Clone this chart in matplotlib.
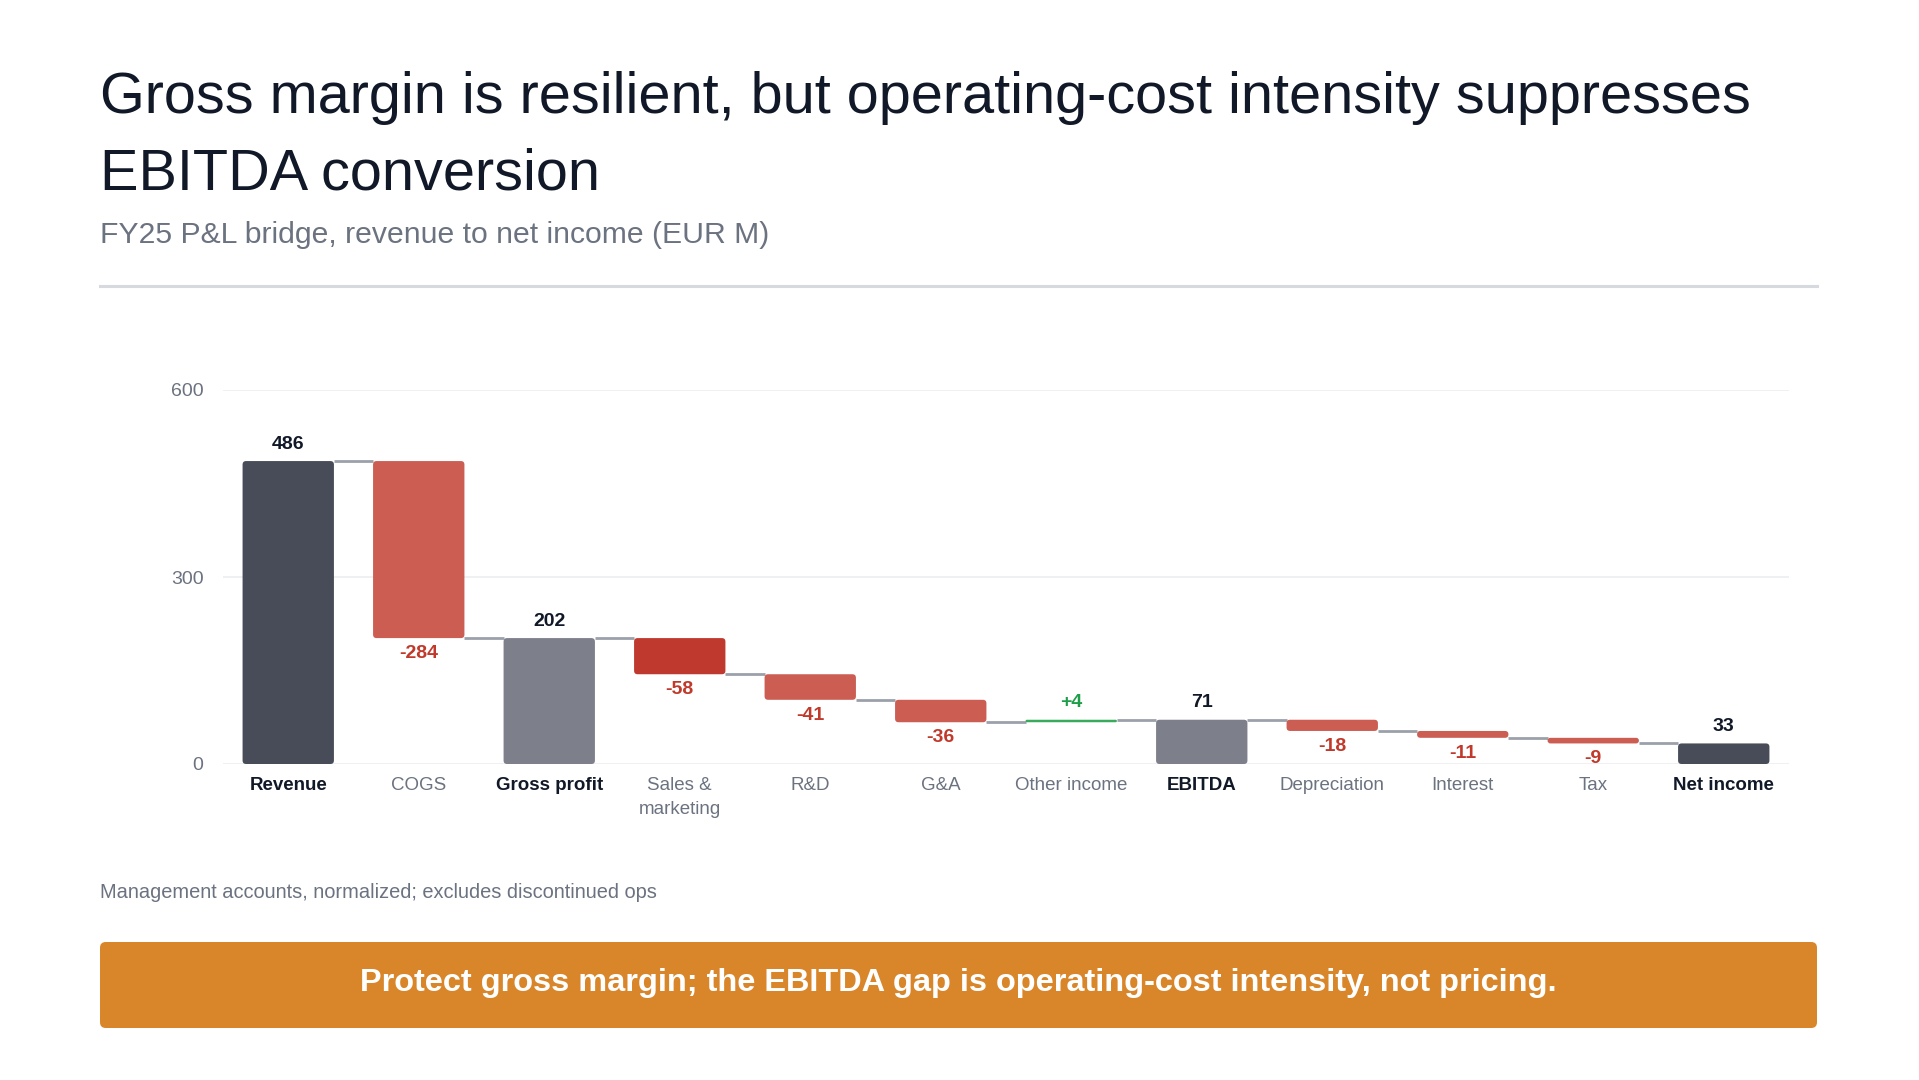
import numpy as np
import matplotlib
matplotlib.use('Agg')
import matplotlib.pyplot as plt
from matplotlib.patches import FancyBboxPatch

plt.rcParams['font.family'] = ['Liberation Sans', 'DejaVu Sans']

# P&L bridge, EUR M
categories = ["Revenue", "COGS", "Gross profit", "Sales &\nmarketing", "R&D", "G&A",
              "Other income", "EBITDA", "Depreciation", "Interest", "Tax", "Net income"]
values = [486, -284, 202, -58, -41, -36, 4, 71, -18, -11, -9, 33]
is_total = [True, False, True, False, False, False, False, True, False, False, False, True]
y_ticks = [0, 300, 600]

DARK = '#484c58'
MID = '#7d7f8a'
RED = '#cb5d52'
RED_HI = '#c0392e'
GREEN = '#3aaa5c'
INK = '#111827'
GREY_TXT = '#6b7280'

def bar_colour(i):
    if is_total[i]:
        return DARK if i in (0, len(values) - 1) else MID
    if values[i] > 0:
        return GREEN
    if categories[i].startswith("Sales"):
        return RED_HI
    return RED

fig = plt.figure(figsize=(19.19, 10.80), dpi=100)
fig.patch.set_facecolor('white')

# header
fig.text(100/1919, 1 - 98/1080, "Gross margin is resilient, but operating-cost intensity suppresses",
         fontsize=41.5, color=INK, va='center', ha='left')
fig.text(100/1919, 1 - 174/1080, "EBITDA conversion",
         fontsize=41.5, color=INK, va='center', ha='left')
fig.text(100/1919, 1 - 235/1080, "FY25 P&L bridge, revenue to net income (EUR M)",
         fontsize=21.7, color=GREY_TXT, va='center', ha='left')
fig.add_artist(plt.Line2D([100/1919, 1817/1919], [1 - 286/1080, 1 - 286/1080],
                          color='#d6d9de', lw=2.2))

ax = fig.add_axes([223/1919, 1 - 764/1080, (1789 - 223)/1919, (764 - 390)/1080])
ax.set_xlim(-0.5, len(values) - 0.5)
ax.set_ylim(0, 600)
for s in ax.spines.values():
    s.set_visible(False)
ax.set_yticks(y_ticks)
ax.set_yticklabels([str(t) for t in y_ticks])
ax.tick_params(axis='y', length=0, pad=14, labelsize=14, labelcolor=GREY_TXT)
ax.grid(axis='y', color='#ebedf0', lw=1.2)
ax.set_axisbelow(True)

# pixel scale for rounded corners
px_x = 1566 / len(values)
px_y = 374 / 600
bw = 0.7
radius_px = 3.5

running = 0
bottoms, tops = [], []
for i, v in enumerate(values):
    if is_total[i]:
        lo, hi = 0, v
        running = v
    else:
        lo, hi = sorted([running, running + v])
        running += v
    bottoms.append(lo)
    tops.append(hi)
    h = hi - lo
    h_px = h * px_y
    r_px = min(radius_px, h_px / 2)
    rs = r_px / px_x
    box = FancyBboxPatch((i - bw/2, lo), bw, h,
                         boxstyle=f"round,pad=0,rounding_size={rs}",
                         mutation_aspect=px_x / px_y,
                         fc=bar_colour(i), ec='none', zorder=3)
    ax.add_patch(box)

# connectors
levels = []
running = 0
for i, v in enumerate(values):
    running = v if is_total[i] else running + v
    levels.append(running)
for i in range(len(values) - 1):
    ax.plot([i + bw/2, i + 1 - bw/2], [levels[i], levels[i]],
            color='#9ca0aa', lw=2, zorder=2, solid_capstyle='butt')

# value labels
for i, v in enumerate(values):
    if is_total[i]:
        ax.annotate(str(v), (i, tops[i]), xytext=(0, 6), textcoords='offset points',
                    ha='center', va='bottom', fontsize=14, fontweight='bold', color=INK)
    elif v > 0:
        ax.annotate(f"+{v}", (i, tops[i]), xytext=(0, 6), textcoords='offset points',
                    ha='center', va='bottom', fontsize=14, fontweight='bold', color='#1e9e4a')
    else:
        ax.annotate(f"{v}", (i, bottoms[i]), xytext=(0, -5), textcoords='offset points',
                    ha='center', va='top', fontsize=14, fontweight='bold', color='#c0392b')

ax.set_xticks(np.arange(len(values)))
ax.set_xticklabels(categories, linespacing=1.55)
ax.tick_params(axis='x', length=0, pad=9, labelsize=13.5)
for i, lab in enumerate(ax.get_xticklabels()):
    if is_total[i]:
        lab.set_color(INK)
        lab.set_fontweight('bold')
    else:
        lab.set_color(GREY_TXT)

# footnote
fig.text(100/1919, 1 - 892/1080, "Management accounts, normalized; excludes discontinued ops",
         fontsize=14.4, color=GREY_TXT, va='center', ha='left')

# banner
banner = FancyBboxPatch((100/1919, 1 - 1028/1080), (1817 - 100)/1919, (1028 - 942)/1080,
                        boxstyle="round,pad=0,rounding_size=0.003",
                        mutation_aspect=1919/1080,
                        transform=fig.transFigure, fc='#d9862a', ec='none')
fig.add_artist(banner)
fig.text((100 + 1817)/2/1919, 1 - 983/1080,
         "Protect gross margin; the EBITDA gap is operating-cost intensity, not pricing.",
         fontsize=23.4, fontweight='bold', color='white', ha='center', va='center')

plt.savefig('out.png', dpi=100, facecolor='white')
